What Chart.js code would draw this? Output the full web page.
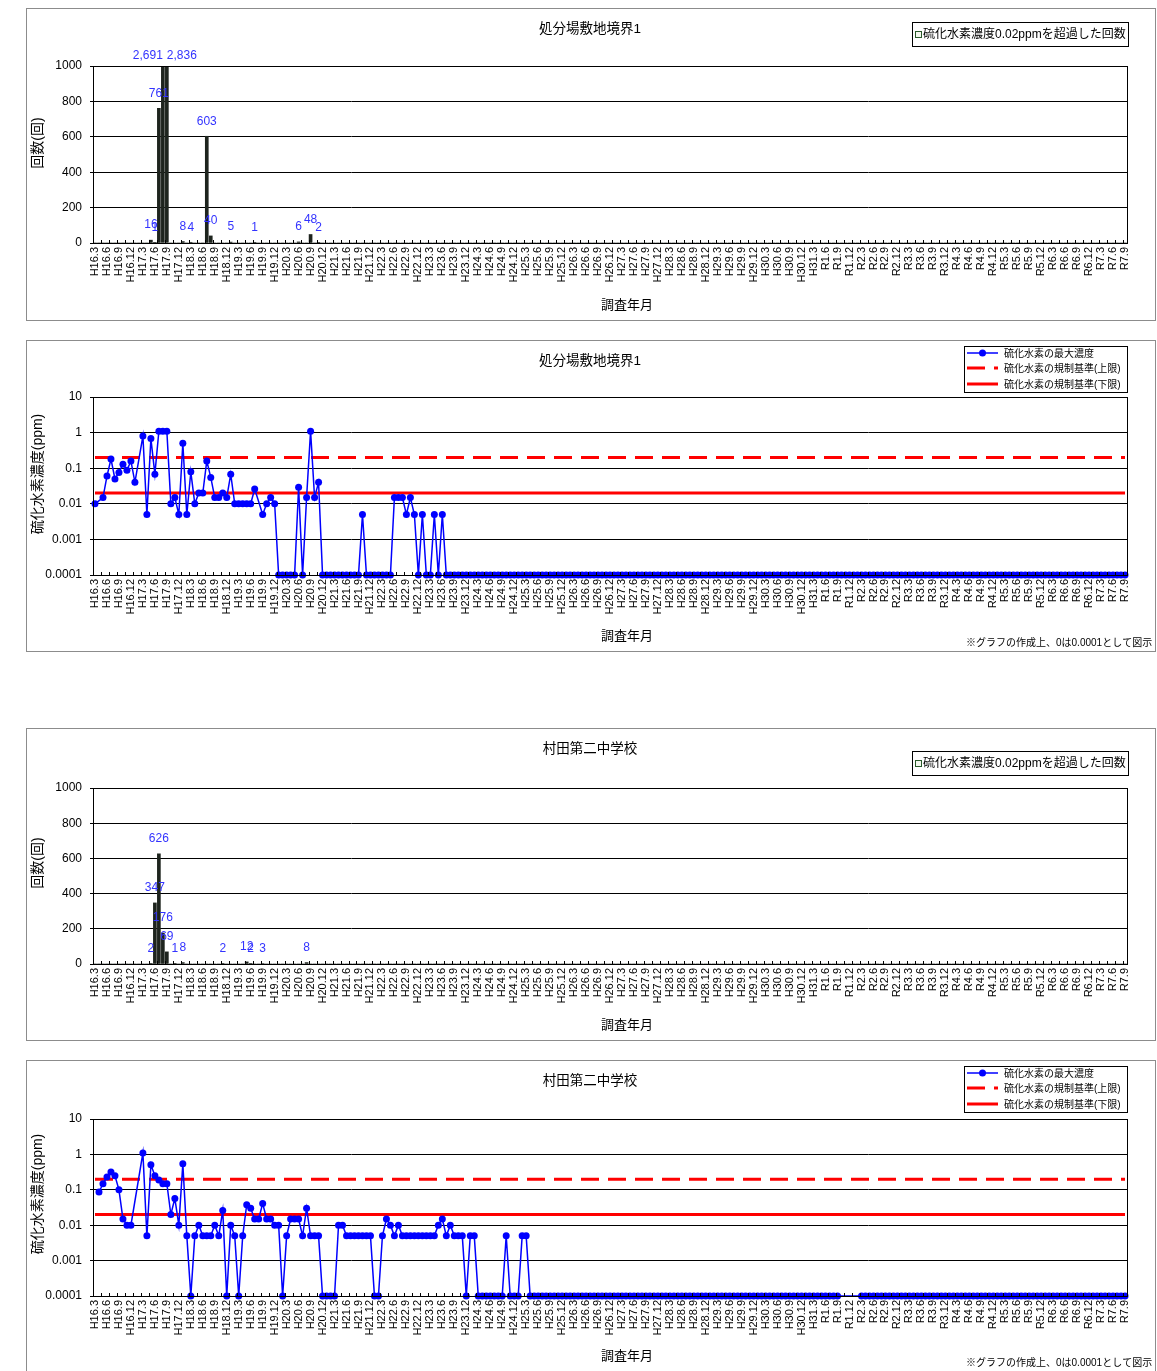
<!DOCTYPE html>
<html>
<head>
<meta charset="utf-8">
<script src="https://cdn.jsdelivr.net/npm/chart.js@4/dist/chart.umd.min.js"></script>
<style>
  body { margin: 0; background: #fff; }
  .panel { position: absolute; left: 26px; width: 1130px; border: 1px solid #8c8c8c; box-sizing: border-box; overflow: hidden; }
  .panel canvas { display: block; }
</style>
</head>
<body>
<div class="panel" style="top:8px;height:313px"><canvas id="c1" width="1128" height="311"></canvas></div>
<div class="panel" style="top:340px;height:312px"><canvas id="c2" width="1128" height="310"></canvas></div>
<div class="panel" style="top:728px;height:313px"><canvas id="c3" width="1128" height="311"></canvas></div>
<div class="panel" style="top:1060px;height:313px"><canvas id="c4" width="1128" height="311"></canvas></div>
<script>
// monthly survey, H16.3 .. R7.9
const START_YEAR = 2004, START_MONTH = 3, MONTH_COUNT = 259;

const Y_COUNT_TICKS = [0, 200, 400, 600, 800, 1000];
const Y_CONC_TICKS = [0.0001, 0.001, 0.01, 0.1, 1, 10];
const LIMIT_UPPER = 0.2;   // 規制基準(上限)
const LIMIT_LOWER = 0.02;  // 規制基準(下限)
const ZERO_PLOT = 0.0001;  // 0は0.0001として図示

// 処分場敷地境界1 : 0.02ppm超過回数 (one row = Mar..Feb)
const COUNT_1 = [
  0,0,0,0,0,0,0,0,0,0,0,0,
  0,0,16,1,761,2691,2836,0,0,0,8,0,
  4,0,0,0,603,40,0,0,0,0,5,0,
  0,0,0,0,1,0,0,0,0,0,0,0,
  0,0,0,6,0,0,48,0,2,0,0,0,
  0,0,0,0,0,0,0,0,0,0,0,0,
  0,0,0,0,0,0,0,0,0,0,0,0,
  0,0,0,0,0,0,0,0,0,0,0,0,
  0,0,0,0,0,0,0,0,0,0,0,0,
  0,0,0,0,0,0,0,0,0,0,0,0,
  0,0,0,0,0,0,0,0,0,0,0,0,
  0,0,0,0,0,0,0,0,0,0,0,0,
  0,0,0,0,0,0,0,0,0,0,0,0,
  0,0,0,0,0,0,0,0,0,0,0,0,
  0,0,0,0,0,0,0,0,0,0,0,0,
  0,0,0,0,0,0,0,0,0,0,0,0,
  0,0,0,0,0,0,0,0,0,0,0,0,
  0,0,0,0,0,0,0,0,0,0,0,0,
  0,0,0,0,0,0,0,0,0,0,0,0,
  0,0,0,0,0,0,0,0,0,0,0,0,
  0,0,0,0,0,0,0,0,0,0,0,0,
  0,0,0,0,0,0,0
];

// 処分場敷地境界1 : 最大濃度 ppm
const CONC_1 = [
  0.01,null,0.015,0.06,0.18,0.05,0.076,0.13,0.088,0.16,0.04,null,
  0.8,0.005,0.68,0.068,1.1,1.1,1.1,0.01,0.015,0.005,0.5,0.005,
  0.079,0.01,0.02,0.02,0.16,0.055,0.015,0.015,0.02,0.015,0.068,0.01,
  0.01,0.01,0.01,0.01,0.026,null,0.005,0.01,0.015,0.01,0,0,
  0,0,0,0.029,0,0.015,1.1,0.015,0.04,0,0,0,
  0,0,0,0,0,0,0,0.005,0,0,0,0,
  0,0,0,0.015,0.015,0.015,0.005,0.015,0.005,0,0.005,0,
  0,0.005,0,0.005,0,0,0,0,0,0,0,0,
  0,0,0,0,0,0,0,0,0,0,0,0,
  0,0,0,0,0,0,0,0,0,0,0,0,
  0,0,0,0,0,0,0,0,0,0,0,0,
  0,0,0,0,0,0,0,0,0,0,0,0,
  0,0,0,0,0,0,0,0,0,0,0,0,
  0,0,0,0,0,0,0,0,0,0,0,0,
  0,0,0,0,0,0,0,0,0,0,0,0,
  0,0,0,0,0,0,0,0,0,0,0,0,
  0,0,0,0,0,0,0,0,0,0,0,0,
  0,0,0,0,0,0,0,0,0,0,0,0,
  0,0,0,0,0,0,0,0,0,0,0,0,
  0,0,0,0,0,0,0,0,0,0,0,0,
  0,0,0,0,0,0,0,0,0,0,0,0,
  0,0,0,0,0,0,0
];

// 村田第二中学校 : 0.02ppm超過回数
const COUNT_2 = [
  0,0,0,0,0,0,0,0,0,0,0,0,
  0,0,2,347,626,176,69,0,1,0,8,0,
  0,0,0,0,0,0,0,0,2,0,0,0,
  0,0,12,2,0,0,3,0,0,0,0,0,
  0,0,0,0,0,8,0,0,0,0,0,0,
  0,0,0,0,0,0,0,0,0,0,0,0,
  0,0,0,0,0,0,0,0,0,0,0,0,
  0,0,0,0,0,0,0,0,0,0,0,0,
  0,0,0,0,0,0,0,0,0,0,0,0,
  0,0,0,0,0,0,0,0,0,0,0,0,
  0,0,0,0,0,0,0,0,0,0,0,0,
  0,0,0,0,0,0,0,0,0,0,0,0,
  0,0,0,0,0,0,0,0,0,0,0,0,
  0,0,0,0,0,0,0,0,0,0,0,0,
  0,0,0,0,0,0,0,0,0,0,0,0,
  0,0,0,0,0,0,0,0,0,0,0,0,
  0,0,0,0,0,0,0,0,0,0,0,0,
  0,0,0,0,0,0,0,0,0,0,0,0,
  0,0,0,0,0,0,0,0,0,0,0,0,
  0,0,0,0,0,0,0,0,0,0,0,0,
  0,0,0,0,0,0,0,0,0,0,0,0,
  0,0,0,0,0,0,0
];

// 村田第二中学校 : 最大濃度 ppm
const CONC_2 = [
  null,0.086,0.148,0.23,0.32,0.25,0.1,0.015,0.01,0.01,null,null,
  1.1,0.005,0.51,0.25,0.19,0.148,0.148,0.02,0.057,0.01,0.54,0.005,
  0,0.005,0.01,0.005,0.005,0.005,0.01,0.005,0.026,0,0.01,0.005,
  0,0.005,0.038,0.03,0.015,0.015,0.041,0.015,0.015,0.01,0.01,0,
  0.005,0.015,0.015,0.015,0.005,0.03,0.005,0.005,0.005,0,0,0,
  0,0.01,0.01,0.005,0.005,0.005,0.005,0.005,0.005,0.005,0,0,
  0.005,0.015,0.01,0.005,0.01,0.005,0.005,0.005,0.005,0.005,0.005,0.005,
  0.005,0.005,0.01,0.015,0.005,0.01,0.005,0.005,0.005,0,0.005,0.005,
  0,0,0,0,0,0,0,0.005,0,0,0,0.005,
  0.005,0,0,0,0,0,0,0,0,0,0,0,
  0,0,0,0,0,0,0,0,0,0,0,0,
  0,0,0,0,0,0,0,0,0,0,0,0,
  0,0,0,0,0,0,0,0,0,0,0,0,
  0,0,0,0,0,0,0,0,0,0,0,0,
  0,0,0,0,0,0,0,0,0,0,0,0,
  0,0,0,0,0,0,0,null,null,null,null,null,
  0,0,0,0,0,0,0,0,0,0,0,0,
  0,0,0,0,0,0,0,0,0,0,0,0,
  0,0,0,0,0,0,0,0,0,0,0,0,
  0,0,0,0,0,0,0,0,0,0,0,0,
  0,0,0,0,0,0,0,0,0,0,0,0,
  0,0,0,0,0,0,0
];

const SITE_1 = '処分場敷地境界1';
const SITE_2 = '村田第二中学校';
const COUNT_LABEL = '硫化水素濃度0.02ppmを超過した回数';
const CONC_LABELS = ['硫化水素の最大濃度', '硫化水素の規制基準(上限)', '硫化水素の規制基準(下限)'];
const NOTE = '※グラフの作成上、0は0.0001として図示';

const FONT = "'Liberation Sans','Noto Sans CJK JP',sans-serif";

// era labels for each month
function eraLabel(y, m) {
  if (y < 2019 || (y === 2019 && m <= 4)) return 'H' + (y - 1988) + '.' + m;
  return 'R' + (y - 2018) + '.' + m;
}
const MONTHS = [];
for (let k = 0; k < MONTH_COUNT; k++) {
  const t = START_MONTH - 1 + k;
  MONTHS.push(eraLabel(START_YEAR + Math.floor(t / 12), t % 12 + 1));
}

// frame, inner x ticks, titles, legend, note
const decor = {
  id: 'decor',
  afterDraw(chart, args, o) {
    const ctx = chart.ctx, a = chart.chartArea, ox = 27, oy = o.top + 1;
    ctx.save();
    ctx.strokeStyle = '#000';
    ctx.lineWidth = 1;
    ctx.strokeRect(Math.round(a.left) + 0.5, Math.round(a.top) + 0.5, Math.round(a.right - a.left), Math.round(a.bottom - a.top));
    const xs = chart.scales.x;
    ctx.beginPath();
    for (let i = 0; i <= MONTHS.length; i += 2) {
      const x = Math.round(xs.getPixelForValue(i - 0.5)) + 0.5;
      ctx.moveTo(x, a.bottom);
      ctx.lineTo(x, a.bottom - 3);
    }
    ctx.stroke();

    ctx.fillStyle = '#000';
    ctx.textAlign = 'center';
    ctx.textBaseline = 'middle';
    ctx.font = '13.5px ' + FONT;
    ctx.fillText(o.title, 590 - ox, o.top + 21 - oy);
    ctx.font = '13px ' + FONT;
    ctx.fillText('調査年月', 627 - ox, o.xTitleY - oy);

    ctx.save();
    ctx.translate(38 - ox, o.yTitleY - oy);
    ctx.rotate(-Math.PI / 2);
    ctx.font = '14px ' + FONT;
    ctx.fillText(o.yTitle, 0, 0);
    ctx.restore();

    const L = o.legend;
    ctx.strokeStyle = '#000';
    ctx.strokeRect(L.x - ox + 0.5, L.y - oy + 0.5, L.w, L.h);
    ctx.textAlign = 'left';
    if (L.kind === 'bar') {
      ctx.font = '12px ' + FONT;
      const my = Math.round(L.y + L.h / 2 - oy);
      ctx.fillStyle = '#f4f8ef';
      ctx.fillRect(L.x + 3 - ox, my - 3, 6, 6);
      ctx.strokeStyle = '#2a5a2a';
      ctx.strokeRect(L.x + 3 - ox + 0.5, my - 3 + 0.5, 6, 6);
      ctx.fillStyle = '#000';
      ctx.fillText(COUNT_LABEL, L.x + 11 - ox, my + 1);
    } else {
      ctx.font = '10px ' + FONT;
      const rows = [7, 22, 38];
      const x0 = L.x + 3 - ox, x1 = L.x + 34 - ox;
      rows.forEach((dy, r) => {
        const y = L.y + dy - oy;
        ctx.beginPath();
        if (r === 0) {
          ctx.strokeStyle = '#0000ff'; ctx.lineWidth = 1.5; ctx.setLineDash([]);
        } else {
          ctx.strokeStyle = '#ff0000'; ctx.lineWidth = 3; ctx.setLineDash(r === 1 ? [18, 9] : []);
        }
        ctx.moveTo(x0, y); ctx.lineTo(x1, y); ctx.stroke();
        ctx.setLineDash([]);
        if (r === 0) {
          ctx.fillStyle = '#0000ff';
          ctx.beginPath(); ctx.arc((x0 + x1) / 2, y, 3.5, 0, Math.PI * 2); ctx.fill();
        }
        ctx.fillStyle = '#000';
        ctx.fillText(CONC_LABELS[r], L.x + 40 - ox, y + 1);
      });
      ctx.font = '10px ' + FONT;
      ctx.fillText(NOTE, 966 - ox, o.noteY - oy);
    }
    ctx.restore();
  }
};

// value labels above the count bars; neighbouring clipped bars get their labels split left / right
const barLabels = {
  id: 'barLabels',
  afterDatasetsDraw(chart) {
    const ctx = chart.ctx, a = chart.chartArea;
    const meta = chart.getDatasetMeta(0);
    const vals = chart.data.datasets[0].data;
    const yMax = chart.scales.y.max;
    ctx.save();
    ctx.fillStyle = '#3333ff';
    ctx.font = '12px ' + FONT;
    ctx.textBaseline = 'middle';
    meta.data.forEach((el, i) => {
      const v = vals[i];
      if (!v) return;
      let align = 'center', y = el.y - 15;
      if (v > yMax) {
        y = a.top - 10;
        if (vals[i + 1] > yMax) align = 'right';
        else if (vals[i - 1] > yMax) align = 'left';
      }
      ctx.textAlign = align;
      ctx.fillText(v.toLocaleString('en-US'), el.x, y);
    });
    ctx.restore();
  }
};

function xScale(xHeight) {
  return {
    type: 'category',
    offset: true,
    grid: { display: false, drawTicks: false },
    border: { display: false },
    ticks: {
      autoSkip: false, minRotation: 90, maxRotation: 90, padding: 4, color: '#000',
      font: { size: 11, family: FONT },
      callback: (v, i) => (i % 3 === 0 ? MONTHS[i] : '')
    },
    afterFit: s => { s.height = xHeight; }
  };
}

function yBase(ticks) {
  return {
    grid: { color: '#000', lineWidth: 1, tickLength: 3 },
    border: { display: false },
    ticks: { color: '#000', padding: 8, font: { size: 12, family: FONT }, callback: v => String(v) },
    afterBuildTicks: s => { s.ticks = ticks.map(v => ({ value: v })); },
    afterFit: s => { s.width = 66; }
  };
}

function countChart(id, top, plotTop, xHeight, counts, site, legendY) {
  new Chart(document.getElementById(id), {
    type: 'bar',
    data: {
      labels: MONTHS,
      datasets: [{ label: COUNT_LABEL, data: counts, backgroundColor: '#1e241e', barThickness: 3, borderWidth: 0 }]
    },
    options: {
      responsive: false, animation: false,
      layout: { padding: { left: 0, right: 28, top: plotTop, bottom: 0 } },
      plugins: {
        legend: { display: false }, tooltip: { enabled: false },
        decor: {
          top, title: site, yTitle: '回数(回)', yTitleY: top + 135, xTitleY: top + 297,
          legend: { kind: 'bar', x: 912, y: legendY, w: 216, h: 24 }
        }
      },
      scales: {
        x: xScale(xHeight),
        y: Object.assign(yBase(Y_COUNT_TICKS), { min: 0, max: 1000 })
      }
    },
    plugins: [decor, barLabels]
  });
}

function concChart(id, top, plotTop, xHeight, conc, site) {
  new Chart(document.getElementById(id), {
    type: 'line',
    data: {
      labels: MONTHS,
      datasets: [
        {
          label: CONC_LABELS[0], data: conc.map(v => (v === 0 ? ZERO_PLOT : v)),
          borderColor: '#0000ff', borderWidth: 1.5, pointRadius: 3.5, pointBackgroundColor: '#0000ff',
          pointBorderWidth: 0, spanGaps: true, clip: false, tension: 0
        },
        {
          label: CONC_LABELS[1], data: [{ x: MONTHS[0], y: LIMIT_UPPER }, { x: MONTHS[MONTHS.length - 1], y: LIMIT_UPPER }],
          borderColor: '#ff0000', borderWidth: 3, borderDash: [18, 9], pointRadius: 0
        },
        {
          label: CONC_LABELS[2], data: [{ x: MONTHS[0], y: LIMIT_LOWER }, { x: MONTHS[MONTHS.length - 1], y: LIMIT_LOWER }],
          borderColor: '#ff0000', borderWidth: 3, pointRadius: 0
        }
      ]
    },
    options: {
      responsive: false, animation: false,
      layout: { padding: { left: 0, right: 28, top: plotTop, bottom: 0 } },
      plugins: {
        legend: { display: false }, tooltip: { enabled: false },
        decor: {
          top, title: site, yTitle: '硫化水素濃度(ppm)', yTitleY: top + 134, xTitleY: top + 296, noteY: top + 303,
          legend: { kind: 'line', x: 964, y: top + 6, w: 163, h: 46 }
        }
      },
      scales: {
        x: xScale(xHeight),
        y: Object.assign(yBase(Y_CONC_TICKS), { type: 'logarithmic', min: 0.0001, max: 10 })
      }
    },
    plugins: [decor]
  });
}

countChart('c1', 8, 57, 77, COUNT_1, SITE_1, 22);
concChart('c2', 340, 56, 76, CONC_1, SITE_1);
countChart('c3', 728, 59, 76, COUNT_2, SITE_2, 751);
concChart('c4', 1060, 58, 76, CONC_2, SITE_2);
</script>
</body>
</html>
